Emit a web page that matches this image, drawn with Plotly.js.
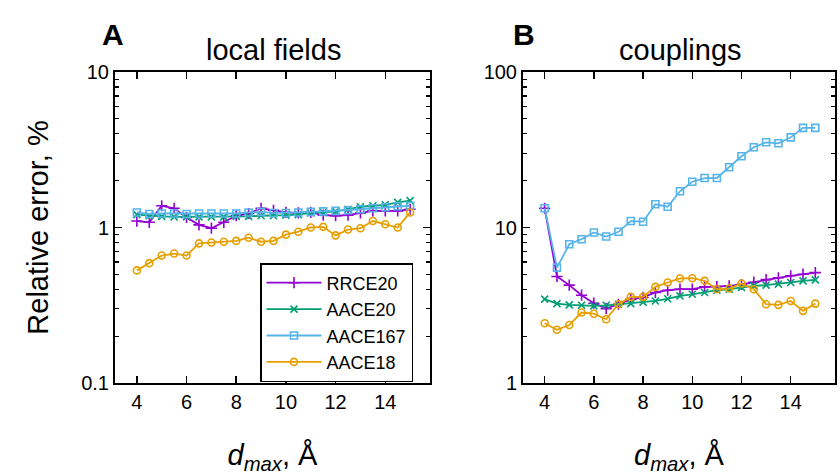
<!DOCTYPE html>
<html>
<head>
<meta charset="utf-8">
<script src="https://cdn.plot.ly/plotly-3.0.1.min.js"></script>
<style>html,body{margin:0;padding:0;background:#fff;}#chart{width:840px;height:475px;}</style>
</head>
<body>
<div id="chart"></div>
<script>
// d_max values (Å)
const dmax = [4,4.5,5,5.5,6,6.5,7,7.5,8,8.5,9,9.5,10,10.5,11,11.5,12,12.5,13,13.5,14,14.5,15];

// Panel A: local fields, relative error %
const fieldsRRCE20  = [1.10,1.08,1.38,1.33,1.16,1.04,0.99,1.08,1.19,1.23,1.33,1.29,1.25,1.24,1.25,1.20,1.19,1.20,1.24,1.28,1.28,1.28,1.31];
const fieldsAACE20  = [1.21,1.19,1.18,1.17,1.17,1.17,1.17,1.17,1.18,1.18,1.19,1.19,1.20,1.21,1.24,1.25,1.27,1.31,1.36,1.38,1.40,1.45,1.49];
const fieldsAACE167 = [1.25,1.22,1.23,1.23,1.22,1.23,1.23,1.23,1.23,1.25,1.26,1.24,1.24,1.25,1.26,1.27,1.28,1.29,1.31,1.33,1.35,1.37,1.38];
const fieldsAACE18  = [0.53,0.59,0.66,0.68,0.66,0.79,0.80,0.81,0.82,0.86,0.81,0.82,0.90,0.94,1.00,1.01,0.89,0.97,0.99,1.10,1.05,1.00,1.25];

// Panel B: couplings, relative error %
const coupRRCE20  = [13.3,4.84,4.26,3.67,3.26,3.01,3.21,3.45,3.55,3.82,3.95,4.01,4.01,4.15,4.17,4.21,4.30,4.45,4.62,4.75,4.89,5.01,5.13];
const coupAACE20  = [3.46,3.24,3.18,3.16,3.13,3.16,3.21,3.24,3.31,3.37,3.48,3.63,3.72,3.82,3.95,4.01,4.12,4.21,4.26,4.32,4.43,4.54,4.60];
const coupAACE167 = [13.3,5.52,7.8,8.41,9.29,8.75,9.38,11.0,10.9,14.1,13.6,17.1,19.7,20.8,20.8,24.4,28.7,32.8,35.3,34.8,38.0,43.7,43.7];
const coupAACE18  = [2.42,2.2,2.36,2.84,2.79,2.57,3.21,3.58,3.58,4.15,4.43,4.70,4.72,4.54,4.01,4.05,4.36,4.01,3.21,3.18,3.37,2.91,3.24];

const seriesNames = ['RRCE20','AACE20','AACE167','AACE18'];
const colors = ['#9400D3','#009E73','#56B4E9','#E69F00'];
const symbols = ['cross-thin-open','x-thin-open','square-open','circle-open'];
const msizes = [8,7,7,7];

const panelA = [fieldsRRCE20, fieldsAACE20, fieldsAACE167, fieldsAACE18];
const panelB = [coupRRCE20, coupAACE20, coupAACE167, coupAACE18];

const traces = [];
function addPanel(data, xa, ya, showLegend){
  data.forEach((ys, i) => {
    traces.push({
      x: dmax, y: ys, xaxis: xa, yaxis: ya,
      type: 'scatter', mode: 'lines+markers',
      name: seriesNames[i], showlegend: showLegend,
      line: {color: colors[i], width: 1.8},
      marker: {symbol: symbols[i], size: msizes[i], color: colors[i], line: {color: colors[i], width: 1.6}}
    });
  });
}
addPanel(panelA, 'x', 'y', true);
addPanel(panelB, 'x2', 'y2', false);

const W = 840, H = 475;
const FONT = 'Liberation Sans, Arial, Helvetica, sans-serif';

const xbase = {
  range: [3.12, 15.8], tickvals: [4,6,8,10,12,14], ticks: 'inside', ticklen: 7, tickwidth: 1.5,
  tickcolor: '#000', showline: true, linecolor: '#000', linewidth: 2, mirror: 'ticks',
  showgrid: false, zeroline: false, tickfont: {size: 20, color: '#000'},
  title: {text: '<i>d</i><sub><i>max</i></sub>, Å', font: {size: 29, color: '#000'}, standoff: 44}
};
const ybase = {
  type: 'log', dtick: 1, ticks: 'inside', ticklen: 7, tickwidth: 1.5, tickcolor: '#000',
  showline: true, linecolor: '#000', linewidth: 2, mirror: 'ticks', showgrid: false, zeroline: false,
  tickfont: {size: 20, color: '#000'},
  minor: {ticks: 'inside', ticklen: 4, tickwidth: 1.2, tickcolor: '#000', dtick: 'D1', showgrid: false}
};
const yDom = [1 - 383/H, 1 - 72/H];

const ann = (text, px, py, size) => ({text: text, x: px/W, y: 1 - py/H, xref: 'paper', yref: 'paper',
  xanchor: 'center', yanchor: 'middle', showarrow: false, font: {size: size, color: '#000'}});

const layout = {
  width: W, height: H,
  margin: {l: 0, r: 0, t: 0, b: 0},
  paper_bgcolor: '#fff', plot_bgcolor: '#fff',
  font: {family: FONT, color: '#000'},
  xaxis: Object.assign({}, xbase, {domain: [115/W, 430/W], anchor: 'y'}),
  xaxis2: Object.assign({}, xbase, {domain: [523/W, 835/W], anchor: 'y2'}),
  yaxis: Object.assign({}, ybase, {domain: yDom, range: [-1, 1], anchor: 'x',
    title: {text: 'Relative error, %', font: {size: 29, color: '#000'}, standoff: 24}}),
  yaxis2: Object.assign({}, ybase, {domain: yDom, range: [0, 2], anchor: 'x2'}),
  showlegend: true,
  legend: {
    x: 413/W, y: 1 - 382/H, xanchor: 'right', yanchor: 'bottom',
    bgcolor: '#fff', bordercolor: '#000', borderwidth: 1.5,
    font: {size: 18, color: '#000'}, tracegroupgap: 0, itemwidth: 55
  },
  annotations: [
    ann('<b>A</b>', 113, 34, 30),
    ann('<b>B</b>', 524, 34, 30),
    ann('local fields', 273, 50, 29),
    ann('couplings', 680, 50, 29)
  ]
};

Plotly.newPlot('chart', traces, layout, {displayModeBar: false, staticPlot: true});
</script>
</body>
</html>
